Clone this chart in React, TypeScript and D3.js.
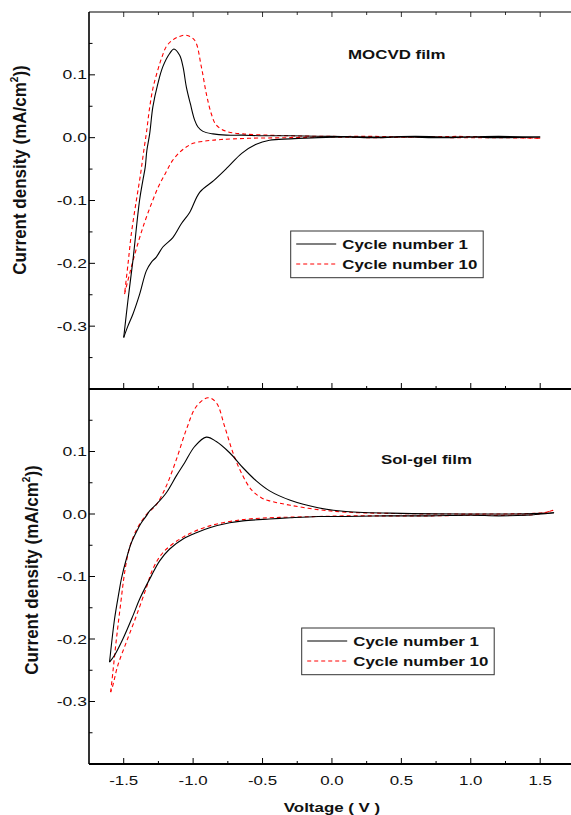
import React from "react";
import * as d3 from "d3";

// ---------- data (Voltage V, Current density mA/cm^2) ----------
const xTickValues = [-1.5, -1.0, -0.5, 0.0, 0.5, 1.0, 1.5];
const xMinorValues = [-1.25, -0.75, -0.25, 0.25, 0.75, 1.25];
const yTickValues = [-0.3, -0.2, -0.1, 0.0, 0.1];
const yMinorValues = [-0.35, -0.25, -0.15, -0.05, 0.05, 0.15];

// MOCVD film, cycle 1
const mocvd1Forward: [number, number][] = [
  [-1.5, -0.318], [-1.47, -0.3], [-1.434, -0.281], [-1.385, -0.249], [-1.337, -0.212],
  [-1.3, -0.198], [-1.265, -0.19], [-1.218, -0.174], [-1.146, -0.159], [-1.085, -0.137],
  [-1.025, -0.119], [-0.953, -0.087], [-0.85, -0.068], [-0.75, -0.047], [-0.65, -0.025],
  [-0.55, -0.011], [-0.45, -0.004], [-0.3, -0.002], [-0.1, 0.0], [0.1, 0.001],
  [0.3, 0.0], [0.5, 0.001], [0.8, 0.0], [1.0, 0.001], [1.2, 0.0], [1.5, 0.001],
];
const mocvd1Reverse: [number, number][] = [
  [1.5, 0.001], [1.2, 0.002], [0.9, 0.001], [0.6, 0.002], [0.3, 0.001], [0.0, 0.002],
  [-0.3, 0.003], [-0.5, 0.003], [-0.65, 0.004], [-0.761, 0.004], [-0.857, 0.006],
  [-0.929, 0.01], [-0.965, 0.017], [-0.989, 0.028], [-1.02, 0.054], [-1.049, 0.081],
  [-1.073, 0.113], [-1.097, 0.131], [-1.138, 0.141], [-1.169, 0.134], [-1.218, 0.113],
  [-1.254, 0.086], [-1.29, 0.049], [-1.313, 0.006], [-1.333, -0.02], [-1.345, -0.047],
  [-1.362, -0.068], [-1.386, -0.1], [-1.434, -0.196], [-1.47, -0.26], [-1.5, -0.318],
];

// MOCVD film, cycle 10
const mocvd10Forward: [number, number][] = [
  [-1.494, -0.249], [-1.45, -0.21], [-1.4, -0.17], [-1.35, -0.135], [-1.3, -0.105],
  [-1.25, -0.078], [-1.2, -0.057], [-1.15, -0.037], [-1.1, -0.024], [-1.05, -0.015],
  [-1.0, -0.009], [-0.9, -0.005], [-0.8, -0.003], [-0.6, -0.001], [-0.3, 0.0],
  [0.0, 0.001], [0.3, 0.0], [0.6, 0.001], [0.9, 0.0], [1.2, 0.0], [1.5, -0.001],
];
const mocvd10Reverse: [number, number][] = [
  [1.5, -0.001], [1.2, 0.001], [0.9, 0.002], [0.6, 0.001], [0.3, 0.002], [0.0, 0.002],
  [-0.3, 0.003], [-0.449, 0.004], [-0.641, 0.006], [-0.761, 0.01], [-0.833, 0.02],
  [-0.869, 0.038], [-0.905, 0.07], [-0.941, 0.113], [-0.989, 0.155], [-1.049, 0.163],
  [-1.1, 0.161], [-1.15, 0.155], [-1.193, 0.145], [-1.225, 0.128], [-1.254, 0.108],
  [-1.29, 0.078], [-1.315, 0.045], [-1.335, 0.01], [-1.355, -0.02], [-1.38, -0.06],
  [-1.409, -0.1], [-1.445, -0.153], [-1.469, -0.201], [-1.494, -0.249],
];

// Sol-gel film, cycle 1
const solgel1Forward: [number, number][] = [
  [-1.602, -0.237], [-1.566, -0.168], [-1.534, -0.125], [-1.517, -0.104], [-1.481, -0.072],
  [-1.445, -0.046], [-1.398, -0.024], [-1.373, -0.014], [-1.337, -0.003], [-1.313, 0.005],
  [-1.254, 0.018], [-1.193, 0.034], [-1.121, 0.061], [-1.061, 0.082], [-0.989, 0.108],
  [-0.905, 0.123], [-0.833, 0.116], [-0.737, 0.098], [-0.641, 0.074], [-0.545, 0.053],
  [-0.449, 0.037], [-0.3, 0.022], [-0.1, 0.01], [0.1, 0.004], [0.5, 0.001], [1.0, 0.0],
  [1.3, 0.0], [1.5, 0.001], [1.6, 0.002],
];
const solgel1Reverse: [number, number][] = [
  [1.6, 0.002], [1.4, -0.002], [1.2, -0.003], [1.0, -0.002], [0.7, -0.003], [0.4, -0.003],
  [0.1, -0.004], [-0.1, -0.004], [-0.3, -0.006], [-0.449, -0.008], [-0.641, -0.011],
  [-0.737, -0.014], [-0.881, -0.022], [-0.977, -0.03], [-1.073, -0.04], [-1.169, -0.056],
  [-1.241, -0.075], [-1.301, -0.099], [-1.385, -0.136], [-1.434, -0.163], [-1.506, -0.2],
  [-1.566, -0.226], [-1.602, -0.237],
];

// Sol-gel film, cycle 10
const solgel10Forward: [number, number][] = [
  [-1.594, -0.285], [-1.578, -0.253], [-1.56, -0.215], [-1.542, -0.18], [-1.52, -0.14],
  [-1.5, -0.104], [-1.475, -0.07], [-1.445, -0.045], [-1.4, -0.022], [-1.337, -0.001],
  [-1.265, 0.015], [-1.193, 0.045], [-1.121, 0.087], [-1.049, 0.135], [-0.977, 0.172],
  [-0.893, 0.186], [-0.833, 0.178], [-0.773, 0.14], [-0.713, 0.098], [-0.653, 0.066],
  [-0.581, 0.039], [-0.509, 0.026], [-0.449, 0.021], [-0.3, 0.014], [-0.1, 0.007],
  [0.1, 0.003], [0.4, 0.001], [0.8, 0.0], [1.2, 0.0], [1.45, 0.001], [1.55, 0.003],
  [1.593, 0.006],
];
const solgel10Reverse: [number, number][] = [
  [1.593, 0.006], [1.5, 0.0], [1.3, -0.002], [1.0, -0.002], [0.7, -0.003], [0.4, -0.003],
  [0.1, -0.003], [-0.1, -0.004], [-0.3, -0.005], [-0.449, -0.006], [-0.641, -0.009],
  [-0.881, -0.019], [-1.073, -0.037], [-1.218, -0.062], [-1.29, -0.088], [-1.337, -0.118],
  [-1.409, -0.163], [-1.481, -0.205], [-1.542, -0.242], [-1.578, -0.274], [-1.594, -0.285],
];

const legendLabels = ["Cycle number 1", "Cycle number 10"];

// ---------- layout ----------
const W = 571;
const H = 815;
const LEFT = 89;
const RIGHT = 574.9;
const FONT = "'Liberation Sans', Arial, Helvetica, sans-serif";
const SX = 1.3;

const xScale = d3.scaleLinear().domain([-1.75, 1.75]).range([LEFT, RIGHT]);
const yTop = d3.scaleLinear().domain([-0.4, 0.2]).range([389, 12]);
const yBot = d3.scaleLinear().domain([-0.4, 0.2]).range([764, 389]);

const fmt = (v: number) => (v < 0 ? "-" : "") + Math.abs(v).toFixed(1);

function STxt({ x, y, anchor = "start", size = 13, bold = false, sx = SX, children }: any) {
  return (
    <text
      transform={`translate(${x},${y}) scale(${sx},1)`}
      textAnchor={anchor}
      fontFamily={FONT}
      fontSize={size}
      fontWeight={bold ? "bold" : "normal"}
      fill="#111"
    >
      {children}
    </text>
  );
}

function YLabel({ x, y }: { x: number; y: number }) {
  return (
    <text
      transform={`translate(${x},${y}) scale(1.1,1) rotate(-90)`}
      textAnchor="middle"
      fontFamily={FONT}
      fontSize={17}
      fontWeight="bold"
      fill="#111"
    >
      Current density (mA/cm
      <tspan fontSize={10} dy={-7}>2</tspan>
      <tspan dy={7}>))</tspan>
    </text>
  );
}

function Panel({ yScale, top, bottom, fwd1, rev1, fwd10, rev10, title, titleX, titleY, legX, legY, labelX, labelY, showXLabels, topTicks }: any) {
  const mk = d3
    .line<[number, number]>()
    .x((d) => xScale(d[0]))
    .y((d) => yScale(d[1]))
    .curve(d3.curveCatmullRom.alpha(0.5));
  return (
    <g>
      {/* curves */}
      <path d={mk(fwd10) || ""} fill="none" stroke="#ff0000" strokeWidth={1.1} strokeDasharray="4,3" />
      <path d={mk(rev10) || ""} fill="none" stroke="#ff0000" strokeWidth={1.1} strokeDasharray="4,3" />
      <path d={mk(fwd1) || ""} fill="none" stroke="#000" strokeWidth={1.1} />
      <path d={mk(rev1) || ""} fill="none" stroke="#000" strokeWidth={1.1} />

      {/* left axis */}
      <line x1={LEFT} x2={LEFT} y1={top} y2={bottom} stroke="#000" strokeWidth={1.6} />
      {yTickValues.map((v) => (
        <g key={"yt" + v}>
          <line x1={LEFT} x2={LEFT + 6} y1={yScale(v)} y2={yScale(v)} stroke="#000" strokeWidth={1} />
          <STxt x={LEFT - 2} y={yScale(v) + 4.5} anchor="end" sx={1.35}>{fmt(v)}</STxt>
        </g>
      ))}
      {yMinorValues.map((v) => (
        <line key={"ym" + v} x1={LEFT} x2={LEFT + 3.5} y1={yScale(v)} y2={yScale(v)} stroke="#000" strokeWidth={1} />
      ))}

      {/* bottom axis of panel: inward ticks */}
      <line x1={LEFT} x2={RIGHT} y1={bottom} y2={bottom} stroke="#000" strokeWidth={2} />
      {xTickValues.map((v) => (
        <line key={"xb" + v} x1={xScale(v)} x2={xScale(v)} y1={bottom} y2={bottom - 6} stroke="#000" strokeWidth={1} />
      ))}
      {xMinorValues.map((v) => (
        <line key={"xbm" + v} x1={xScale(v)} x2={xScale(v)} y1={bottom} y2={bottom - 3} stroke="#000" strokeWidth={1} />
      ))}
      {showXLabels &&
        xTickValues.map((v) => (
          <STxt key={"xl" + v} x={xScale(v)} y={785} anchor="middle" sx={1.3}>{fmt(v)}</STxt>
        ))}

      {/* top border */}
      {topTicks && (
        <g>
          <line x1={LEFT} x2={RIGHT} y1={top} y2={top} stroke="#000" strokeWidth={1.1} />
          {xTickValues.map((v) => (
            <line key={"xt" + v} x1={xScale(v)} x2={xScale(v)} y1={top} y2={top + 5} stroke="#000" strokeWidth={0.8} />
          ))}
          {xMinorValues.map((v) => (
            <line key={"xtm" + v} x1={xScale(v)} x2={xScale(v)} y1={top} y2={top + 3} stroke="#000" strokeWidth={0.8} />
          ))}
        </g>
      )}
      <line x1={RIGHT} x2={RIGHT} y1={top} y2={bottom} stroke="#000" strokeWidth={1} />

      {/* title */}
      <STxt x={titleX} y={titleY} bold>{title}</STxt>

      {/* legend */}
      <rect x={legX} y={legY} width={192.5} height={46.7} fill="#fff" stroke="#333" strokeWidth={1} />
      <line x1={legX + 5.5} x2={legX + 45.5} y1={legY + 13} y2={legY + 13} stroke="#000" strokeWidth={1.1} />
      <line x1={legX + 5.5} x2={legX + 45.5} y1={legY + 33} y2={legY + 33} stroke="#ff0000" strokeWidth={1.1} strokeDasharray="4,3" />
      <STxt x={legX + 51.5} y={legY + 17.5} bold>{legendLabels[0]}</STxt>
      <STxt x={legX + 51.5} y={legY + 37.5} bold>{legendLabels[1]}</STxt>

      <YLabel x={labelX} y={labelY} />
    </g>
  );
}

export default function App() {
  return (
    <svg
      width={W}
      height={H}
      viewBox={`0 0 ${W} ${H}`}
      style={{ position: "absolute", left: 0, top: 0, background: "#fff" }}
    >
      <rect x={0} y={0} width={W} height={H} fill="#fff" />
      <Panel
        yScale={yTop}
        top={12}
        bottom={389}
        fwd1={mocvd1Forward}
        rev1={mocvd1Reverse}
        fwd10={mocvd10Forward}
        rev10={mocvd10Reverse}
        title="MOCVD film"
        titleX={348}
        titleY={59}
        legX={290.7}
        legY={231}
        labelX={26}
        labelY={170}
        showXLabels={false}
        topTicks={true}
      />
      <Panel
        yScale={yBot}
        top={389}
        bottom={764}
        fwd1={solgel1Forward}
        rev1={solgel1Reverse}
        fwd10={solgel10Forward}
        rev10={solgel10Reverse}
        title="Sol-gel film"
        titleX={381}
        titleY={464}
        legX={301.7}
        legY={628}
        labelX={38}
        labelY={570}
        showXLabels={true}
        topTicks={false}
      />
      <STxt x={332} y={812} anchor="middle" bold>Voltage ( V )</STxt>
    </svg>
  );
}
